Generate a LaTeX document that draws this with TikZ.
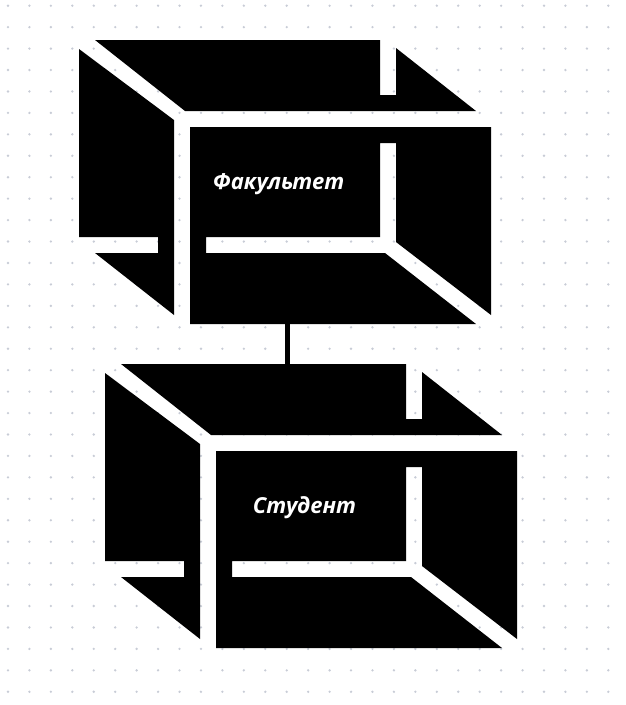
\documentclass[tikz,border=0pt]{standalone}
\usepackage{fontspec}
\newfontfamily\boxfont{Open Sans}
\definecolor{griddot}{RGB}{200,204,214}

\begin{document}
\begin{tikzpicture}[x=1pt,y=-1pt,>=latex,
  face/.style={fill=black},
  boxlabel/.style={text=white,anchor=base,font=\boxfont\bfseries\itshape\fontsize{22}{24}\selectfont}]

\useasboundingbox (0,0) rectangle (626,705);

% dotted paper
\foreach \i in {0,...,29}
  \foreach \j in {0,...,32}
    \fill[griddot] (8+21.44*\i,5.7+21.44*\j) circle (1.3pt);

% the two boxes
\foreach \dx/\dy/\nm/\txt in {0/0/fak/Факультет,26/324/stud/Студент}{
  \begin{scope}[shift={(\dx,\dy)}]
    \fill[face] (95,40) -- (380,40) -- (380,95) -- (396,95) -- (396,48) -- (476,111) -- (185,111) -- cycle;
    \fill[face] (79,49) -- (174,120) -- (174,315) -- (95,253) -- (158,253) -- (158,237) -- (79,237) -- cycle;
    \fill[face] (190,127) -- (491,127) -- (491,315) -- (396,242) -- (396,143) -- (380,143) -- (380,237)
      -- (206,237) -- (206,253) -- (385,253) -- (476,324) -- (190,324) -- cycle;
    \node[boxlabel] (\nm) at (278.5,189) {\txt};
    \coordinate (\nm-n) at (261.5,40);
    \coordinate (\nm-s) at (287.5,324);
  \end{scope}
}

\draw[line width=5pt] (fak-s) -- (fak-s |- stud-n);
\end{tikzpicture}
\end{document}
